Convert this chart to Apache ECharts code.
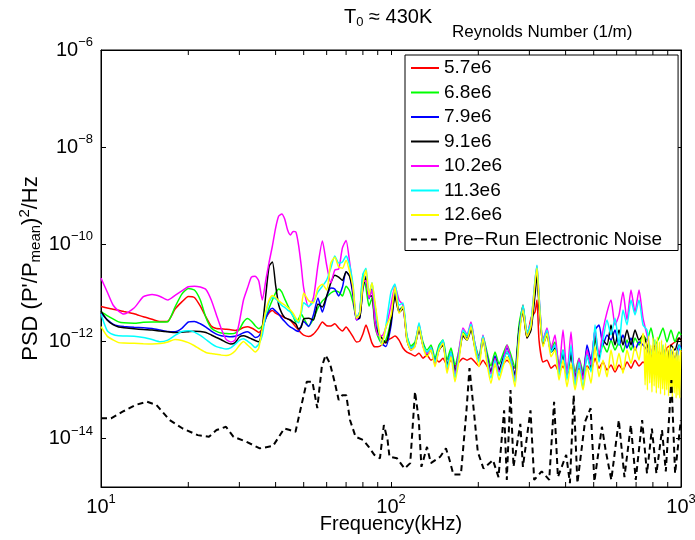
<!DOCTYPE html>
<html><head><meta charset="utf-8">
<script src="https://cdn.jsdelivr.net/npm/echarts@6/dist/echarts.min.js"></script>
<style>html,body{margin:0;padding:0;background:#fff}#c{width:695px;height:540px}</style>
</head><body><div id="c"></div>
<script>
// ---------- data ----------
const freqLow = [10, 10.5, 11, 11.5, 12, 13, 14, 15, 16, 17, 18, 19, 20, 21, 22, 23, 24, 25, 26, 27, 28, 29, 30, 31, 32, 33, 34, 35, 36, 37, 38, 39, 40, 41, 42, 43, 44, 45, 46, 47, 48, 49, 50, 52, 54, 56, 58, 60, 62, 64, 66, 68, 70, 72, 74, 76, 78, 80, 82, 84, 86, 88, 90, 93, 96, 100];
const freqHigh = [103.2, 106.6, 110.0, 113.5, 117.2, 121.0, 124.9, 128.9, 133.1, 137.4, 141.8, 146.4, 151.1, 156.0, 161.0, 166.2, 171.6, 177.1, 182.9, 188.8, 194.8, 201.1, 207.6, 214.3, 221.2, 228.4, 235.8, 243.4, 251.2, 259.3, 267.7, 276.3, 285.2, 294.4, 303.9, 313.7, 318.7, 323.9, 334.3, 345.1, 356.3, 367.8, 379.6, 391.9, 404.5, 417.6, 431.1, 445.0, 459.3, 474.2, 489.5, 505.3, 521.6, 538.4, 555.8, 573.7, 592.2, 611.3, 631.0, 651.3, 672.4, 694.1, 716.5, 739.6, 763.4, 788.0, 813.4, 839.6, 866.7, 894.6, 923.4, 953.5, 984.2, 1000];
const freqBand = [745, 752, 759, 766, 773, 780, 787, 794, 801, 808, 815, 822, 829, 836, 843, 850, 857, 864, 871, 878, 885, 892, 899, 906, 913, 920, 927, 934, 941, 948, 955, 962, 969, 976, 983, 990, 997];

const re57Low = [5.2e-12, 4.85e-12, 4.6e-12, 4.35e-12, 4.1e-12, 3.7e-12, 3.2e-12, 2.85e-12, 2.55e-12, 2.6e-12, 4.6e-12, 6.5e-12, 8.4e-12, 8.0e-12, 5.3e-12, 3.2e-12, 2.07e-12, 1.83e-12, 1.81e-12, 1.77e-12, 1.73e-12, 1.68e-12, 1.75e-12, 1.92e-12, 2.0e-12, 1.88e-12, 1.71e-12, 1.52e-12, 1.88e-12, 3.0e-12, 3.9e-12, 4.3e-12, 3.8e-12, 3.5e-12, 3.3e-12, 3.05e-12, 2.9e-12, 2.7e-12, 2.3e-12, 1.97e-12, 1.71e-12, 1.48e-12, 1.34e-12, 1.26e-12, 1.41e-12, 1.83e-12, 2.5e-12, 2.1e-12, 2.07e-12, 2.3e-12, 1.88e-12, 1.63e-12, 1.97e-12, 1.6e-12, 1.23e-12, 9.7e-13, 1.01e-12, 1.41e-12, 2.17e-12, 1.45e-12, 9.2e-13, 7.7e-13, 7.7e-13, 8.4e-13, 1.01e-12, 1.15e-12];
const re57High = [1.29e-12, 1.06e-12, 7.3e-13, 6.0e-13, 5.5e-13, 5.0e-13, 5.7e-13, 4.5e-13, 5.2e-13, 4.1e-13, 4.5e-13, 3.75e-13, 4.5e-13, 3.25e-13, 4.1e-13, 3.1e-13, 3.75e-13, 4.5e-13, 4.1e-13, 4.5e-13, 3.75e-13, 3.1e-13, 4.1e-13, 3.1e-13, 2.33e-13, 3.25e-13, 2.56e-13, 3.4e-13, 4.1e-13, 3.4e-13, 2.8e-13, 1.71e-12, 5.6e-12, 1.17e-12, 3.0e-12, 4.0e-12, 7.1e-12, 1.06e-12, 3.75e-13, 4.1e-13, 2.8e-13, 3.25e-13, 2.33e-13, 3.1e-13, 2.12e-13, 3.1e-13, 2.02e-13, 2.8e-13, 2.02e-13, 3.1e-13, 2.56e-13, 4.5e-13, 2.8e-13, 3.75e-13, 2.56e-13, 3.25e-13, 2.33e-13, 3.25e-13, 2.56e-13, 3.75e-13, 2.8e-13, 4.1e-13, 3.1e-13, 3.75e-13, 3.25e-13, 5.2e-13, 3.75e-13, 6.0e-13, 4.5e-13, 7.3e-13, 8.4e-13, 9.7e-13, 1.17e-12, 1.06e-12];

const re68Low = [4.1e-12, 3.4e-12, 2.9e-12, 2.52e-12, 2.4e-12, 2.36e-12, 2.46e-12, 2.5e-12, 2.5e-12, 2.53e-12, 5.1e-12, 9.4e-12, 1.23e-11, 1.14e-11, 7.1e-12, 3.1e-12, 1.88e-12, 1.6e-12, 1.48e-12, 1.45e-12, 1.43e-12, 1.48e-12, 1.75e-12, 2.5e-12, 2.95e-12, 2.6e-12, 2.1e-12, 1.83e-12, 2.07e-12, 3.0e-12, 4.85e-12, 7.1e-12, 9.9e-12, 1.2e-11, 1.04e-11, 7.5e-12, 5.6e-12, 4.2e-12, 3.25e-12, 2.5e-12, 2.9e-12, 3.65e-12, 3.0e-12, 2.07e-12, 2.9e-12, 4.85e-12, 6.8e-12, 8.2e-12, 9.9e-12, 1.09e-11, 1.04e-11, 8.6e-12, 1.37e-11, 1.09e-11, 6.2e-12, 3.0e-12, 4.0e-12, 2.4e-11, 1.25e-11, 5.3e-12, 7.8e-12, 2.07e-12, 1.28e-12, 9.2e-13, 1.06e-12, 2.75e-12];
const re68High = [1.04e-11, 4.4e-12, 5.3e-12, 1.29e-12, 8.0e-13, 9.7e-13, 2.07e-12, 9.7e-13, 6.6e-13, 8.4e-13, 4.5e-13, 8.4e-13, 1.06e-12, 4.1e-13, 7.3e-13, 3.25e-13, 6.6e-13, 1.56e-12, 1.29e-12, 2.07e-12, 8.8e-13, 5.0e-13, 1.29e-12, 6.0e-13, 3.1e-13, 6.0e-13, 3.4e-13, 5.5e-13, 8.4e-13, 5.2e-13, 2.8e-13, 2.17e-12, 5.3e-12, 1.56e-12, 2.17e-12, 1.25e-11, 2.94e-11, 7.1e-12, 1.06e-12, 1.71e-12, 7.3e-13, 9.7e-13, 3.25e-13, 6.6e-13, 2.56e-13, 6.6e-13, 2.33e-13, 4.5e-13, 2.33e-13, 6.6e-13, 3.75e-13, 1.06e-12, 5.2e-13, 8.4e-13, 6.0e-13, 1.06e-12, 6.6e-13, 9.7e-13, 6.0e-13, 1.06e-12, 6.6e-13, 1.17e-12, 8.4e-13, 1.35e-12, 1.06e-12, 1.88e-12, 8.4e-13, 1.17e-12, 1.88e-12, 9.7e-13, 1.71e-12, 9.7e-13, 1.56e-12, 1.35e-12];

const re79Low = [3.77e-12, 2.8e-12, 2.27e-12, 2.08e-12, 2.02e-12, 1.95e-12, 1.9e-12, 1.83e-12, 1.71e-12, 1.6e-12, 1.58e-12, 1.85e-12, 2.5e-12, 2.57e-12, 2.3e-12, 1.97e-12, 1.63e-12, 1.41e-12, 1.3e-12, 1.27e-12, 1.24e-12, 1.27e-12, 1.36e-12, 1.5e-12, 1.57e-12, 1.41e-12, 1.2e-12, 1.28e-12, 1.8e-12, 3.0e-12, 4.2e-12, 4.8e-12, 4.2e-12, 3.65e-12, 3.0e-12, 2.55e-12, 2.2e-12, 1.97e-12, 1.83e-12, 1.67e-12, 1.6e-12, 2.07e-12, 2.55e-12, 2.03e-12, 3.47e-12, 7.8e-12, 4.0e-12, 8.2e-12, 1.25e-11, 1.2e-11, 8.6e-12, 1.31e-11, 2.7e-11, 2.2e-11, 8.6e-12, 2.75e-12, 3.0e-12, 1.2e-11, 2.2e-11, 7.5e-12, 1.2e-11, 5.6e-12, 1.88e-12, 9.0e-13, 7.8e-13, 2.07e-12];
const re79High = [9.4e-12, 4.4e-12, 4.9e-12, 1.17e-12, 7.3e-13, 8.4e-13, 1.88e-12, 8.4e-13, 5.5e-13, 7.3e-13, 3.75e-13, 7.3e-13, 9.7e-13, 3.1e-13, 6.0e-13, 2.33e-13, 5.5e-13, 1.35e-12, 1.17e-12, 1.88e-12, 8.0e-13, 4.1e-13, 1.17e-12, 5.0e-13, 2.33e-13, 5.0e-13, 2.56e-13, 4.5e-13, 7.3e-13, 4.1e-13, 1.93e-13, 1.56e-12, 4.4e-12, 1.29e-12, 1.88e-12, 1.14e-11, 2.94e-11, 6.45e-12, 9.2e-13, 1.56e-12, 6.6e-13, 8.4e-13, 2.56e-13, 6.0e-13, 1.93e-13, 6.0e-13, 1.6e-13, 4.1e-13, 1.75e-13, 8.4e-13, 4.1e-13, 1.71e-12, 2.17e-12, 8.4e-13, 1.35e-12, 1.06e-12, 1.71e-12, 8.4e-13, 1.35e-12, 7.3e-13, 1.17e-12, 6.6e-13, 9.7e-13, 8.4e-13, 6.6e-13, 4.5e-13, 7.3e-13, 3.25e-13, 6.6e-13, 2.8e-13, 6.6e-13, 4.5e-13, 8.4e-13, 7.3e-13];

const re91Low = [4.2e-12, 2.75e-12, 2.2e-12, 1.97e-12, 1.9e-12, 1.82e-12, 1.75e-12, 1.71e-12, 1.63e-12, 1.57e-12, 1.52e-12, 1.54e-12, 1.58e-12, 1.62e-12, 1.59e-12, 1.52e-12, 1.35e-12, 1.2e-12, 1.08e-12, 9.5e-13, 8.8e-13, 9.4e-13, 1.23e-12, 1.3e-12, 1.23e-12, 1.13e-12, 1.04e-12, 9.8e-13, 1.97e-12, 9.0e-12, 3.55e-11, 4.3e-11, 1.44e-11, 5.6e-12, 3.8e-12, 3.1e-12, 2.9e-12, 2.75e-12, 2.5e-12, 2.27e-12, 1.8e-12, 1.97e-12, 2.9e-12, 3.0e-12, 2.75e-12, 5.9e-12, 5.1e-12, 8.6e-12, 1.6e-11, 2.3e-11, 2.1e-11, 1.8e-11, 2.7e-11, 2.2e-11, 1.04e-11, 3.0e-12, 3.0e-12, 1.37e-11, 2.0e-11, 8.6e-12, 8.6e-12, 2.5e-12, 1.55e-12, 1.17e-12, 9.2e-13, 2.5e-12];
const re91High = [8.6e-12, 4.0e-12, 4.6e-12, 1.06e-12, 6.6e-13, 8.4e-13, 1.71e-12, 8.4e-13, 5.2e-13, 6.6e-13, 3.75e-13, 6.6e-13, 8.4e-13, 3.25e-13, 5.2e-13, 2.56e-13, 5.2e-13, 1.29e-12, 1.06e-12, 1.71e-12, 7.3e-13, 4.1e-13, 1.06e-12, 4.5e-13, 2.33e-13, 4.5e-13, 2.56e-13, 4.1e-13, 6.0e-13, 3.75e-13, 2.02e-13, 1.71e-12, 4.0e-12, 1.17e-12, 1.71e-12, 9.0e-12, 2.32e-11, 5.6e-12, 8.4e-13, 1.35e-12, 6.0e-13, 7.3e-13, 2.8e-13, 5.2e-13, 2.02e-13, 5.2e-13, 1.75e-13, 3.75e-13, 1.75e-13, 5.2e-13, 2.8e-13, 1.35e-12, 4.5e-13, 1.06e-12, 8.4e-13, 2.17e-12, 8.4e-13, 1.71e-12, 8.4e-13, 1.71e-12, 8.4e-13, 1.71e-12, 1.06e-12, 1.35e-12, 8.4e-13, 5.2e-13, 8.4e-13, 4.1e-13, 7.3e-13, 3.75e-13, 8.4e-13, 6.6e-13, 1.17e-12, 1.06e-12];

const re102Low = [2.0e-11, 1.05e-11, 5.6e-12, 4.2e-12, 3.65e-12, 4.85e-12, 8.3e-12, 9.2e-12, 8.4e-12, 7.1e-12, 8.8e-12, 1.09e-11, 1.33e-11, 1.37e-11, 1.31e-11, 1.17e-11, 7.1e-12, 3.5e-12, 1.8e-12, 1.1e-12, 9.7e-13, 1.06e-12, 2.5e-12, 7.1e-12, 1.25e-11, 2.1e-11, 2.2e-11, 1.75e-11, 7.1e-12, 1.8e-11, 4.3e-11, 9.2e-11, 2.15e-10, 3.8e-10, 4.2e-10, 3.3e-10, 1.96e-10, 1.55e-10, 1.83e-10, 1.78e-10, 9.6e-11, 3.7e-11, 1.25e-11, 5.1e-12, 7.8e-12, 3.7e-11, 1.16e-10, 3.7e-11, 1.6e-11, 2.94e-11, 3.1e-11, 8.4e-11, 1.2e-10, 4.3e-11, 1.14e-11, 2.75e-12, 4.0e-12, 1.66e-11, 1.8e-11, 7.8e-12, 1.14e-11, 2.5e-12, 1.35e-12, 1.3e-12, 1.9e-12, 5.6e-12];
const re102High = [1.38e-11, 7.1e-12, 5.6e-12, 1.17e-12, 6.6e-13, 8.0e-13, 2.27e-12, 8.0e-13, 5.5e-13, 7.3e-13, 3.4e-13, 6.6e-13, 9.7e-13, 2.56e-13, 5.5e-13, 2.02e-13, 6.6e-13, 1.88e-12, 1.4e-12, 2.5e-12, 8.8e-13, 4.1e-13, 1.35e-12, 4.5e-13, 2.12e-13, 4.5e-13, 2.33e-13, 3.75e-13, 8.4e-13, 4.1e-13, 1.6e-13, 1.35e-12, 4.9e-12, 1.48e-12, 2.5e-12, 1.75e-11, 3.56e-11, 8.6e-12, 1.06e-12, 1.88e-12, 7.3e-13, 1.35e-12, 2.56e-13, 1.71e-12, 2.02e-13, 1.56e-12, 1.45e-13, 4.5e-13, 1.6e-13, 6.6e-13, 3.25e-13, 1.71e-12, 5.2e-13, 1.71e-12, 4.0e-12, 7.1e-12, 2.17e-12, 3.5e-12, 1.04e-11, 2.75e-12, 1.14e-11, 4.0e-12, 1.14e-11, 3.0e-12, 1.35e-12, 6.0e-13, 9.7e-13, 2.8e-13, 7.3e-13, 1.93e-13, 6.0e-13, 1.45e-13, 7.3e-13, 6.0e-13];

const re113Low = [3.65e-12, 1.67e-12, 1.38e-12, 1.3e-12, 1.29e-12, 1.28e-12, 1.2e-12, 1.09e-12, 9.8e-13, 1.06e-12, 1.32e-12, 1.6e-12, 1.65e-12, 1.55e-12, 1.32e-12, 1.09e-12, 9.0e-13, 7.8e-13, 7.3e-13, 6.95e-13, 7.35e-13, 8.7e-13, 1.05e-12, 1.13e-12, 1.01e-12, 8.8e-13, 7.45e-13, 8.8e-13, 1.35e-12, 3.65e-12, 6.5e-12, 8.2e-12, 7.5e-12, 6.5e-12, 5.5e-12, 5.0e-12, 4.4e-12, 4.0e-12, 3.3e-12, 2.75e-12, 2.4e-12, 3.65e-12, 6.2e-12, 5.3e-12, 6.5e-12, 1.04e-11, 1.37e-11, 1.83e-11, 3.2e-11, 5.7e-11, 4.1e-11, 4.3e-11, 5.7e-11, 3.7e-11, 1.44e-11, 3.0e-12, 4.0e-12, 2.4e-11, 3.2e-11, 9.4e-12, 1.6e-11, 5.6e-12, 2.17e-12, 8.4e-13, 2.07e-12, 1.04e-11];
const re113High = [1.52e-11, 5.6e-12, 6.15e-12, 1.29e-12, 7.3e-13, 8.4e-13, 2.4e-12, 8.4e-13, 6.0e-13, 7.3e-13, 3.75e-13, 7.3e-13, 1.06e-12, 2.8e-13, 6.0e-13, 1.75e-13, 5.0e-13, 1.71e-12, 1.35e-12, 2.27e-12, 8.4e-13, 3.75e-13, 1.29e-12, 4.1e-13, 1.75e-13, 4.1e-13, 1.93e-13, 3.75e-13, 6.0e-13, 3.75e-13, 1.45e-13, 1.29e-12, 5.6e-12, 1.48e-12, 2.5e-12, 1.83e-11, 3.7e-11, 9.0e-12, 9.7e-13, 1.71e-12, 6.0e-13, 8.4e-13, 1.93e-13, 6.6e-13, 1.6e-13, 8.4e-13, 1.2e-13, 3.75e-13, 1.09e-13, 5.2e-13, 2.33e-13, 2.17e-12, 3.75e-13, 1.06e-12, 2.75e-12, 1.35e-12, 3.0e-12, 8.4e-13, 4.4e-12, 2.17e-12, 7.1e-12, 3.5e-12, 7.1e-12, 2.17e-12, 1.71e-12, 5.2e-13, 1.06e-12, 2.33e-13, 8.4e-13, 1.6e-13, 6.6e-13, 1.26e-13, 8.4e-13, 6.6e-13];

const re126Low = [2.0e-12, 1.28e-12, 1.07e-12, 9.4e-13, 9.2e-13, 9.1e-13, 8.9e-13, 8.8e-13, 9.0e-13, 9.7e-13, 1.09e-12, 1.04e-12, 9.4e-13, 8.1e-13, 6.8e-13, 5.9e-13, 5.6e-13, 5.4e-13, 5.2e-13, 5.1e-13, 5.4e-13, 6.3e-13, 8.2e-13, 9.9e-13, 8.4e-13, 7.1e-13, 6.0e-13, 7.3e-13, 1.88e-12, 4.2e-12, 7.1e-12, 8.8e-12, 8.0e-12, 6.9e-12, 6.1e-12, 5.6e-12, 5.0e-12, 4.4e-12, 3.77e-12, 3.0e-12, 2.6e-12, 4.4e-12, 9.9e-12, 6.9e-12, 6.2e-12, 1.25e-11, 1.5e-11, 1.14e-11, 4.1e-11, 5.4e-11, 3.4e-11, 3.2e-11, 4.7e-11, 2.7e-11, 1.31e-11, 3.0e-12, 3.65e-12, 1.44e-11, 2.94e-11, 9.0e-12, 1.6e-11, 6.5e-12, 2.5e-12, 8.4e-13, 1.97e-12, 3.4e-12];
const re126High = [1.31e-11, 3.8e-12, 5.2e-12, 1.06e-12, 6.6e-13, 7.7e-13, 2.0e-12, 7.7e-13, 4.8e-13, 6.6e-13, 3.0e-13, 6.6e-13, 9.1e-13, 2.2e-13, 4.8e-13, 1.47e-13, 4.1e-13, 1.46e-12, 1.06e-12, 2.0e-12, 6.6e-13, 3.0e-13, 1.15e-12, 3.5e-13, 1.37e-13, 3.5e-13, 1.6e-13, 3.0e-13, 4.8e-13, 3.0e-13, 1.16e-13, 1.06e-12, 4.4e-12, 1.25e-12, 2.0e-12, 1.57e-11, 3.2e-11, 7.1e-12, 7.7e-13, 1.46e-12, 4.8e-13, 6.6e-13, 1.6e-13, 4.1e-13, 1.16e-13, 3.5e-13, 1.0e-13, 2.56e-13, 1.0e-13, 3.0e-13, 1.37e-13, 7.7e-13, 1.86e-13, 4.1e-13, 1.86e-13, 6.6e-13, 2.56e-13, 5.7e-13, 2.2e-13, 6.6e-13, 3.5e-13, 7.7e-13, 4.1e-13, 1.46e-12];
const re126Band = [1.17e-12, 1.26e-13, 9.7e-13, 1.0e-13, 1.29e-12, 1.38e-13, 8.4e-13, 9.0e-14, 1.17e-12, 1.2e-13, 1.06e-12, 8.6e-14, 1.23e-12, 1.09e-13, 9.7e-13, 8.2e-14, 1.06e-12, 1.04e-13, 8.4e-13, 7.8e-14, 9.2e-13, 1.0e-13, 7.3e-13, 7.5e-14, 8.4e-13, 9.0e-14, 6.6e-13, 7.1e-14, 7.6e-13, 8.6e-14, 6.0e-13, 6.8e-14, 6.6e-13, 7.8e-14, 5.2e-13, 6.8e-14, 6.6e-13];

const noiseFreq = [10, 10.83, 11.87, 13.17, 14.41, 15.53, 17.23, 19.13, 21.55, 23.57, 25.02, 26.98, 28.64, 31.77, 35.29, 39.19, 42.83, 44.77, 46.85, 48.98, 51.24, 53.58, 55.7, 57.73, 59.5, 61.6, 64.1, 66.0, 68.0, 70.1, 72.2, 75.5, 80.2, 83.8, 87.6, 91.6, 94.5, 97.3, 98.8, 104.9, 111.3, 116.5, 121.0, 124.7, 127.3, 133.1, 137.2, 147.8, 154.7, 159.2, 164.1, 174.2, 182.1, 186.5, 193.4, 199.2, 208.4, 224.6, 234.8, 245.5, 250.8, 258.3, 264.5, 279.2, 285.0, 302.7, 311.7, 330.8, 351.2, 365.1, 376.3, 401.9, 414.0, 426.6, 439.3, 466.5, 487.9, 502.8, 533.7, 549.5, 575.1, 610.4, 638.2, 671.5, 698.1, 734.5, 763.4, 793.7, 822.6, 860.0, 886.4, 926.7, 954.2, 998.4];
const noiseVal = [2.6e-14, 2.6e-14, 3.55e-14, 4.9e-14, 5.7e-14, 4.9e-14, 2.4e-14, 1.6e-14, 1.17e-14, 1.08e-14, 1.49e-14, 1.74e-14, 1.08e-14, 8.5e-15, 6.25e-15, 7.0e-15, 1.6e-14, 1.49e-14, 1.37e-14, 4.5e-14, 1.47e-13, 1.47e-13, 4.2e-14, 3.0e-13, 5.2e-13, 3.5e-13, 1.36e-13, 6.2e-14, 7.8e-14, 7.8e-14, 2.4e-14, 1.08e-14, 9.3e-15, 6.7e-15, 4.6e-15, 3.9e-15, 1.89e-14, 9.3e-15, 4.2e-15, 3.9e-15, 2.4e-15, 3.1e-15, 9.2e-14, 2.4e-14, 2.6e-15, 6.7e-15, 3.1e-15, 4.2e-15, 6.25e-15, 3.6e-15, 1.8e-15, 1.8e-15, 3.8e-14, 2.8e-13, 3.3e-14, 5.3e-15, 2.4e-15, 3.6e-15, 1.6e-15, 3.8e-14, 1.4e-15, 9.9e-14, 2.6e-15, 2.0e-14, 2.6e-15, 3.8e-14, 1.4e-15, 2.1e-15, 1.4e-15, 5.7e-14, 1.6e-15, 4.6e-15, 1.2e-15, 7.8e-14, 1.2e-15, 2.2e-14, 4.2e-14, 1.3e-15, 1.74e-14, 5.8e-15, 1.4e-15, 2.4e-14, 1.6e-15, 1.89e-14, 1.4e-15, 2.4e-14, 1.9e-15, 1.6e-14, 1.9e-15, 1.49e-14, 2.1e-15, 1.6e-13, 1.9e-15, 2.4e-14];

const seriesNames = ['5.7e6', '6.8e6', '7.9e6', '9.1e6', '10.2e6', '11.3e6', '12.6e6', 'Pre\u2212Run Electronic Noise'];
const xMinorTicks = [20, 30, 40, 50, 60, 70, 80, 90, 200, 300, 400, 500, 600, 700, 800, 900];

// ---------- build ----------
function pairs(fs, vs) {
  const n = Math.min(fs.length, vs.length), out = [];
  for (let i = 0; i < n; i++) out.push([fs[i], vs[i]]);
  return out;
}
const FONT = '"Liberation Sans", Arial, Helvetica, sans-serif';
const colors = ['#ff0000', '#00ff00', '#0000ff', '#000000', '#ff00ff', '#00ffff', '#ffff00'];
const dataSets = [
  pairs(freqLow, re57Low).concat(pairs(freqHigh, re57High)),
  pairs(freqLow, re68Low).concat(pairs(freqHigh, re68High)),
  pairs(freqLow, re79Low).concat(pairs(freqHigh, re79High)),
  pairs(freqLow, re91Low).concat(pairs(freqHigh, re91High)),
  pairs(freqLow, re102Low).concat(pairs(freqHigh, re102High)),
  pairs(freqLow, re113Low).concat(pairs(freqHigh, re113High)),
  pairs(freqLow, re126Low).concat(pairs(freqHigh.slice(0, re126High.length), re126High), pairs(freqBand, re126Band))
];
const series = dataSets.map((d, i) => ({
  name: seriesNames[i], type: 'line', data: d, symbol: 'none', smooth: 0.2,
  lineStyle: { color: colors[i], width: 1.5 }, itemStyle: { color: colors[i] },
  xAxisIndex: 0, yAxisIndex: 0, animation: false, z: 2 + i
}));
series.push({
  name: seriesNames[7], type: 'line', data: pairs(noiseFreq, noiseVal), symbol: 'none',
  lineStyle: { color: '#000', width: 2, type: [6, 4] }, itemStyle: { color: '#000' },
  xAxisIndex: 0, yAxisIndex: 0, animation: false, z: 10
});
series.push({
  type: 'custom', silent: true, xAxisIndex: 0, yAxisIndex: 0, animation: false, z: 20, clip: false,
  data: xMinorTicks.map(v => [v, 1e-15]),
  renderItem: function (params, api) {
    const b = api.coord([api.value(0), 1e-15]);
    const t = api.coord([api.value(0), 1e-6]);
    return { type: 'group', children: [
      { type: 'line', shape: { x1: b[0], y1: b[1], x2: b[0], y2: b[1] - 5 }, style: { stroke: '#000', lineWidth: 1 } },
      { type: 'line', shape: { x1: t[0], y1: t[1], x2: t[0], y2: t[1] + 5 }, style: { stroke: '#000', lineWidth: 1 } }
    ] };
  }
});

const supRich = {
  b: { fontSize: 20, fontFamily: FONT, color: '#000' },
  s: { fontSize: 13, fontFamily: FONT, color: '#000', padding: [0, 0, 15, 0] }
};
const tickStyle = { show: true, inside: true, length: 5, lineStyle: { color: '#000', width: 1 } };
const axisLineStyle = { show: true, lineStyle: { color: '#000', width: 1 } };

const option = {
  backgroundColor: '#fff',
  animation: false,
  title: [
    { text: '{t|T}{sub|0}{t| \u2248 430K}', left: 344, top: 6, padding: 0,
      textStyle: { fontWeight: 'normal', fontFamily: FONT, color: '#000', fontSize: 20,
        rich: { t: { fontSize: 20, fontFamily: FONT, color: '#000', fontWeight: 'normal' },
                sub: { fontSize: 13, fontFamily: FONT, color: '#000', fontWeight: 'normal', padding: [10, 0, 0, 0] } } } },
    { text: 'Reynolds Number (1/m)', left: 452, top: 24, padding: 0,
      textStyle: { fontWeight: 'normal', fontFamily: FONT, color: '#000', fontSize: 17 } }
  ],
  grid: { left: 101, right: 14, top: 50, bottom: 53, outerBoundsMode: 'none', containLabel: false,
    show: true, borderColor: '#000', borderWidth: 1, backgroundColor: 'transparent' },
  legend: {
    data: seriesNames, orient: 'vertical', left: 405, top: 55,
    itemWidth: 28, itemHeight: 10, itemGap: 4.5, padding: [3, 16, 1, 5],
    borderColor: '#000', borderWidth: 1, backgroundColor: '#fff', borderRadius: 0,
    itemStyle: { opacity: 0, borderWidth: 0 },
    textStyle: { fontSize: 19, fontFamily: FONT, color: '#000', lineHeight: 20 },
    selectedMode: false, z: 30
  },
  xAxis: [
    { type: 'log', logBase: 10, min: 10, max: 1000, position: 'bottom',
      axisLine: axisLineStyle, axisTick: tickStyle, splitLine: { show: false }, minorTick: { show: false },
      axisLabel: { margin: 6, color: '#000', rich: supRich,
        formatter: v => '{b|10}{s|' + Math.round(Math.log10(v)) + '}' },
      name: 'Frequency(kHz)', nameLocation: 'middle', nameGap: 27, nameMoveOverlap: false,
      nameTextStyle: { fontSize: 20, fontFamily: FONT, color: '#000' } },
    { type: 'log', logBase: 10, min: 10, max: 1000, position: 'top',
      axisLine: axisLineStyle, axisTick: tickStyle, splitLine: { show: false }, axisLabel: { show: false } }
  ],
  yAxis: [
    { type: 'log', logBase: 100, min: 1e-15, max: 1e-6, position: 'left',
      axisLine: axisLineStyle, axisTick: tickStyle, splitLine: { show: false },
      axisLabel: { margin: 8, color: '#000', rich: supRich,
        formatter: v => { const e = Math.round(Math.log10(v)); return (e % 2 !== 0) ? '' : '{b|10}{s|\u2212' + (-e) + '}'; } },
      name: "{a|PSD (P'/P}{sub|mean}{a|)}{sup|2}{a|/Hz}", nameLocation: 'middle', nameRotate: 90, nameGap: 57, nameMoveOverlap: false,
      nameTextStyle: { fontSize: 22, fontFamily: FONT, color: '#000',
        rich: { a: { fontSize: 22, fontFamily: FONT, color: '#000' },
                sub: { fontSize: 15, fontFamily: FONT, color: '#000', padding: [10, 0, 0, 0] },
                sup: { fontSize: 15, fontFamily: FONT, color: '#000', padding: [0, 0, 12, 0] } } } },
    { type: 'log', logBase: 100, min: 1e-15, max: 1e-6, position: 'right',
      axisLine: axisLineStyle, axisTick: tickStyle, splitLine: { show: false }, axisLabel: { show: false } }
  ],
  series: series
};
const chart = echarts.init(document.getElementById('c'), null, { renderer: 'canvas' });
chart.setOption(option);
</script></body></html>
